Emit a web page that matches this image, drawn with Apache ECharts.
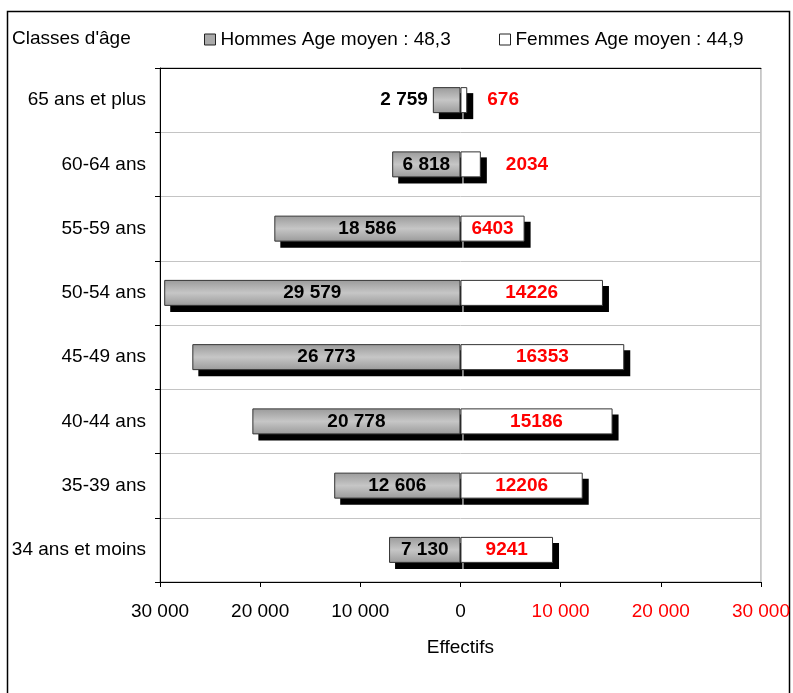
<!DOCTYPE html>
<html>
<head>
<meta charset="utf-8">
<script src="https://cdn.jsdelivr.net/npm/echarts@6/dist/echarts.min.js"></script>
<style>
  html, body { margin: 0; padding: 0; background: #fff; }
  #chart { width: 793px; height: 693px; }
</style>
</head>
<body>
<div id="chart"></div>
<script>
// Age classes, top to bottom
const ageClasses = ['65 ans et plus', '60-64 ans', '55-59 ans', '50-54 ans', '45-49 ans', '40-44 ans', '35-39 ans', '34 ans et moins'];
// Headcounts per class
const hommes = [2759, 6818, 18586, 29579, 26773, 20778, 12606, 7130];
const femmes = [676, 2034, 6403, 14226, 16353, 15186, 12206, 9241];
// Axis ticks (men plotted to the left as negatives)
const xTicks = [-30000, -20000, -10000, 0, 10000, 20000, 30000];

const hommesName = 'Hommes Age moyen : 48,3';
const femmesName = 'Femmes Age moyen : 44,9';

const FONT = "'Liberation Sans', Arial, sans-serif";
const BAR_W = 26;
const SH_X = 6, SH_Y = 6;

function spaced(n) {
  return String(Math.abs(n)).replace(/\B(?=(\d{3})+(?!\d))/g, ' ');
}

const chart = echarts.init(document.getElementById('chart'), null, { renderer: 'canvas' });

const grayFill = new echarts.graphic.LinearGradient(0, 0, 0, 1, [
  { offset: 0, color: '#9a9a9a' },
  { offset: 0.5, color: '#c6c6c6' },
  { offset: 1, color: '#9a9a9a' }
]);

const hommesData = hommes.map((v, i) => {
  const d = { value: -v };
  if (i === 0) d.label = { position: 'left', distance: 5 };
  return d;
});
const femmesData = femmes.map((v, i) => {
  const d = { value: v };
  if (i === 0) d.label = { position: 'right', distance: 20 };
  if (i === 1) d.label = { position: 'right', distance: 25 };
  return d;
});

// Drop shadow behind each bar, placed via the axes' own coordinates
function shadowRenderer(side) {
  return function (params, api) {
    const cat = api.value(1);
    const p0 = api.coord([0, cat]);
    const p1 = api.coord([api.value(0), cat]);
    let x0 = Math.min(p0[0], p1[0]) + SH_X;
    let x1 = Math.max(p0[0], p1[0]) + SH_X;
    if (side === 'left') x1 = p0[0] + 2;
    else x0 = p0[0] + 3;
    return {
      type: 'rect',
      shape: { x: x0, y: p0[1] - BAR_W / 2 + SH_Y, width: Math.max(0, x1 - x0), height: BAR_W },
      style: { fill: '#000' },
      silent: true
    };
  };
}

chart.setOption({
  animation: false,
  textStyle: { fontFamily: FONT },
  title: {
    text: "Classes d'âge",
    left: 12,
    top: 29,
    padding: 0,
    textStyle: { fontFamily: FONT, fontSize: 19, fontWeight: 'normal', color: '#000' }
  },
  legend: [
    {
      left: 204, top: 30, padding: 0,
      icon: 'rect', itemWidth: 11, itemHeight: 11, itemGap: 5,
      data: [{ name: hommesName, itemStyle: { color: '#aaaaaa', borderColor: '#222', borderWidth: 1 } }],
      textStyle: { fontFamily: FONT, fontSize: 19, color: '#000' },
      selectedMode: false
    },
    {
      left: 499, top: 30, padding: 0,
      icon: 'rect', itemWidth: 11, itemHeight: 11, itemGap: 5,
      data: [{ name: femmesName, itemStyle: { color: '#fff', borderColor: '#222', borderWidth: 1 } }],
      textStyle: { fontFamily: FONT, fontSize: 19, color: '#000' },
      selectedMode: false
    }
  ],
  graphic: [
    {
      type: 'rect',
      shape: { x: 7.5, y: 11.5, width: 782, height: 720 },
      style: { fill: 'none', stroke: '#000', lineWidth: 1.5 },
      silent: true,
      z: -1
    }
  ],
  grid: {
    left: 160, right: 31, top: 68, bottom: 111,
    show: true, borderColor: '#9a9a9a', borderWidth: 1, backgroundColor: 'transparent'
  },
  xAxis: [
    {
      type: 'value',
      position: 'bottom',
      min: xTicks[0],
      max: xTicks[xTicks.length - 1],
      interval: 10000,
      axisLine: { show: true, onZero: false, lineStyle: { color: '#000', width: 1 } },
      axisTick: { show: true, length: 5, lineStyle: { color: '#000' } },
      splitLine: { show: false },
      axisLabel: {
        margin: 20,
        fontFamily: FONT,
        fontSize: 19,
        color: (v) => (v > 0 ? '#ff0000' : '#000'),
        formatter: (v) => spaced(v)
      },
      name: 'Effectifs',
      nameLocation: 'middle',
      nameGap: 56,
      nameTextStyle: { fontFamily: FONT, fontSize: 19, color: '#000' }
    },
    {
      type: 'value',
      position: 'top',
      min: xTicks[0],
      max: xTicks[xTicks.length - 1],
      interval: 10000,
      axisLine: { show: true, onZero: false, lineStyle: { color: '#000', width: 1 } },
      axisTick: { show: false },
      axisLabel: { show: false },
      splitLine: { show: false }
    }
  ],
  yAxis: {
    type: 'category',
    data: ageClasses,
    inverse: true,
    axisLine: { show: true, onZero: false, lineStyle: { color: '#000' } },
    axisTick: { show: true, length: 5, lineStyle: { color: '#000' } },
    splitLine: { show: true, lineStyle: { color: '#c4c4c4', width: 1 } },
    axisLabel: { margin: 14, fontFamily: FONT, fontSize: 19, color: '#000' }
  },
  series: [
    {
      type: 'custom',
      name: 'ombre-h',
      xAxisIndex: 0,
      renderItem: shadowRenderer('left'),
      encode: { x: 0, y: 1 },
      data: hommes.map((v, i) => [-v, i]),
      z: 1,
      silent: true
    },
    {
      type: 'custom',
      name: 'ombre-f',
      xAxisIndex: 0,
      renderItem: shadowRenderer('right'),
      encode: { x: 0, y: 1 },
      data: femmes.map((v, i) => [v, i]),
      z: 1,
      silent: true
    },
    {
      name: hommesName,
      type: 'bar',
      xAxisIndex: 0,
      barWidth: BAR_W,
      barGap: '-100%',
      data: hommesData,
      itemStyle: { color: grayFill, borderColor: '#333', borderWidth: 1 },
      label: {
        show: true,
        position: 'inside',
        fontFamily: FONT,
        fontSize: 19,
        fontWeight: 'bold',
        color: '#000',
        formatter: (p) => spaced(p.value)
      },
      z: 2
    },
    {
      name: femmesName,
      type: 'bar',
      xAxisIndex: 0,
      barWidth: BAR_W,
      barGap: '-100%',
      data: femmesData,
      itemStyle: { color: '#fff', borderColor: '#333', borderWidth: 1 },
      label: {
        show: true,
        position: 'inside',
        fontFamily: FONT,
        fontSize: 19,
        fontWeight: 'bold',
        color: '#ff0000',
        formatter: (p) => String(p.value)
      },
      z: 3
    }
  ]
});
</script>
</body>
</html>
